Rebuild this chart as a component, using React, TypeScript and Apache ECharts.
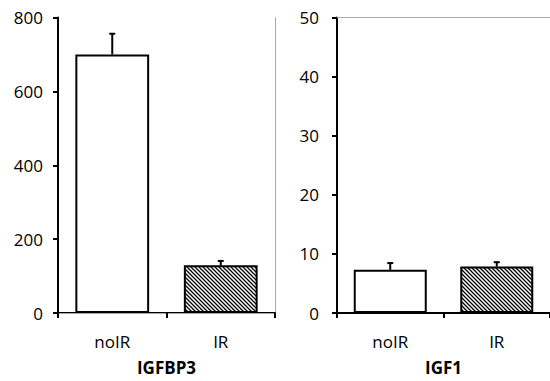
import React, { useEffect, useRef } from "react";
import * as echarts from "echarts";

const categories = ["noIR", "IR"];
const igfbp3Means = [700, 129];
const igfbp3Errors = [56, 12];
const igf1Means = [7.3, 7.85];
const igf1Errors = [1.15, 0.75];
const panelTitles = ["IGFBP3", "IGF1"];
const yMax = [800, 50];
const yInterval = [200, 10];

const FONT = "'Open Sans', sans-serif";

const hatchSvg =
  "data:image/svg+xml;charset=utf-8," +
  encodeURIComponent(
    '<svg xmlns="http://www.w3.org/2000/svg" width="4" height="4">' +
      '<rect width="4" height="4" fill="#fff"/>' +
      '<path d="M-1,-1 L5,5 M-1,3 L1,5 M3,-1 L5,1" stroke="#000" stroke-width="1.3"/>' +
      "</svg>"
  );

const hatch: any = {
  image: hatchSvg,
  repeat: "repeat",
  imageWidth: 4,
  imageHeight: 4,
};

function barData(means: number[]) {
  return means.map((v, i) => ({
    value: v,
    itemStyle: {
      color: i === 0 ? "#fff" : hatch,
      borderColor: "#000",
      borderWidth: 2,
    },
  }));
}

function errData(means: number[], errs: number[]) {
  return means.map((v, i) => [i, v, errs[i]]);
}

const renderErr = (params: any, api: any) => {
  const c = api.coord([api.value(0), api.value(1)]);
  const t = api.coord([api.value(0), api.value(1) + api.value(2)]);
  return {
    type: "group",
    children: [
      {
        type: "line",
        shape: { x1: c[0], y1: c[1], x2: c[0], y2: t[1] },
        style: { stroke: "#000", lineWidth: 2 },
      },
      {
        type: "line",
        shape: { x1: c[0] - 3, y1: t[1], x2: c[0] + 3, y2: t[1] },
        style: { stroke: "#000", lineWidth: 2 },
      },
    ],
  };
};

export default function App() {
  const ref = useRef<HTMLDivElement>(null);
  useEffect(() => {
    document.body.style.margin = "0";
    if (!ref.current) return;
    const chart = echarts.init(ref.current, null, { renderer: "svg" });
    const xAxisBase = (gi: number) => ({
      type: "category",
      gridIndex: gi,
      data: categories,
      boundaryGap: true,
      axisLine: { lineStyle: { color: "#000", width: 2 } },
      axisTick: { show: true, length: 5, lineStyle: { color: "#000", width: 2 } },
      axisLabel: { color: "#000", fontSize: 17, fontFamily: FONT, margin: 20 },
      name: panelTitles[gi],
      nameLocation: "middle",
      nameGap: 46,
      nameTextStyle: { color: "#000", fontSize: 17, fontWeight: "bold", fontFamily: FONT },
    });
    const xAxisTop = (gi: number) => ({
      type: "category",
      gridIndex: gi,
      position: "top",
      data: categories,
      axisLine: { show: true, lineStyle: { color: "#aaa", width: 1 } },
      axisTick: { show: false },
      axisLabel: { show: false },
    });
    const yAxisBase = (gi: number, margin: number) => ({
      type: "value",
      gridIndex: gi,
      min: 0,
      max: yMax[gi],
      interval: yInterval[gi],
      axisLine: { show: true, lineStyle: { color: "#000", width: 2 } },
      axisTick: { show: true, length: 5, lineStyle: { color: "#000", width: 2 } },
      axisLabel: { color: "#000", fontSize: 17, fontFamily: FONT, margin },
      splitLine: { show: false },
    });
    chart.setOption({
      animation: false,
      backgroundColor: "#fff",
      grid: [
        { left: 58, top: 17.5, width: 217, height: 301 },
        { left: 337, top: 17.5, width: 220, height: 302.5 },
      ],
      xAxis: [xAxisBase(0), xAxisBase(1), xAxisTop(0), xAxisTop(1)],
      yAxis: [
        yAxisBase(0, 15),
        yAxisBase(1, 18),
        {
          type: "value",
          gridIndex: 0,
          position: "right",
          min: 0,
          max: yMax[0],
          interval: yInterval[0],
          axisLine: { show: true, lineStyle: { color: "#aaa", width: 1 } },
          axisTick: { show: false },
          axisLabel: { show: false },
          splitLine: { show: false },
        },
      ],
      series: [
        {
          type: "bar",
          xAxisIndex: 0,
          yAxisIndex: 0,
          barWidth: "68%",
          data: barData(igfbp3Means),
        },
        {
          type: "custom",
          xAxisIndex: 0,
          yAxisIndex: 0,
          renderItem: renderErr,
          data: errData(igfbp3Means, igfbp3Errors),
          z: 5,
        },
        {
          type: "bar",
          xAxisIndex: 1,
          yAxisIndex: 1,
          barWidth: 73,
          data: barData(igf1Means),
        },
        {
          type: "custom",
          xAxisIndex: 1,
          yAxisIndex: 1,
          renderItem: renderErr,
          data: errData(igf1Means, igf1Errors),
          z: 5,
        },
      ],
    });
    return () => chart.dispose();
  }, []);
  return <div ref={ref} style={{ width: 550, height: 381, overflow: "hidden" }} />;
}
